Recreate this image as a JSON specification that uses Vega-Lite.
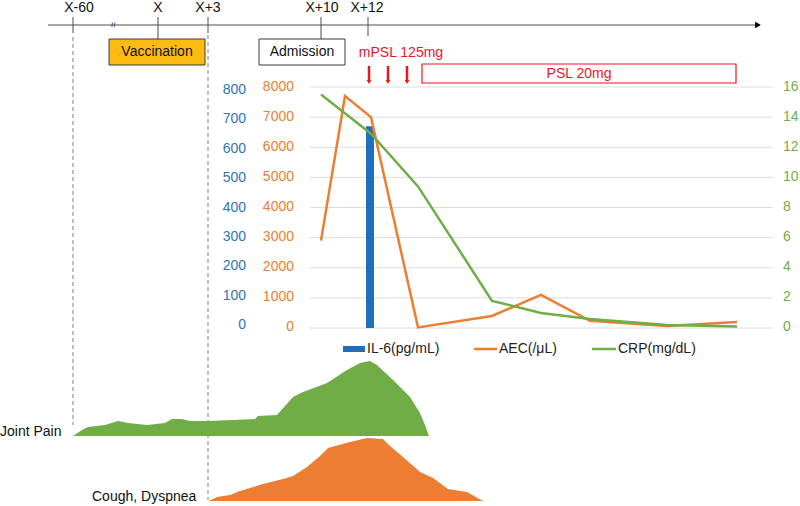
{
  "$schema": "https://vega.github.io/schema/vega-lite/v6.json",
  "width": 800,
  "height": 506,
  "autosize": "none",
  "padding": 0,
  "background": "white",
  "config": {
    "view": {"stroke": null},
    "font": "Liberation Sans",
    "text": {"font": "Liberation Sans", "fontSize": 14, "baseline": "middle"}
  },
  "resolve": {"scale": {"x": "independent", "y": "independent"}},
  "data": {"values": [{}]},
  "datasets": {
    "ticks": [
      {"label": "X-60", "pos": 73, "lpos": 79, "top": 17, "bottom": 33},
      {"label": "X", "pos": 158, "lpos": 158, "top": 17, "bottom": 39},
      {"label": "X+3", "pos": 208, "lpos": 208, "top": 17, "bottom": 33},
      {"label": "X+10", "pos": 321, "lpos": 322, "top": 17, "bottom": 39},
      {"label": "X+12", "pos": 368, "lpos": 367, "top": 17, "bottom": 36}
    ],
    "dashes": [
      {"pos": 73, "top": 37, "bottom": 425},
      {"pos": 208, "top": 35, "bottom": 500}
    ],
    "arrows": [{"pos": 369}, {"pos": 388}, {"pos": 407}],
    "aecTicks": [{"v": 0}, {"v": 1000}, {"v": 2000}, {"v": 3000}, {"v": 4000}, {"v": 5000}, {"v": 6000}, {"v": 7000}, {"v": 8000}],
    "il6Ticks": [{"v": 0}, {"v": 100}, {"v": 200}, {"v": 300}, {"v": 400}, {"v": 500}, {"v": 600}, {"v": 700}, {"v": 800}],
    "crpTicks": [{"v": 0}, {"v": 2}, {"v": 4}, {"v": 6}, {"v": 8}, {"v": 10}, {"v": 12}, {"v": 14}, {"v": 16}],
    "il6": [{"x1": 366, "x2": 374, "il6": 670}],
    "aec": [
      {"pos": 321, "aec": 2900},
      {"pos": 345, "aec": 7700},
      {"pos": 371, "aec": 7000},
      {"pos": 418, "aec": 20},
      {"pos": 492, "aec": 400},
      {"pos": 541, "aec": 1100},
      {"pos": 590, "aec": 240},
      {"pos": 667, "aec": 70},
      {"pos": 737, "aec": 200}
    ],
    "crp": [
      {"pos": 321, "crp": 15.5},
      {"pos": 371, "crp": 12.9},
      {"pos": 418, "crp": 9.4},
      {"pos": 492, "crp": 1.8},
      {"pos": 541, "crp": 1.0},
      {"pos": 590, "crp": 0.6},
      {"pos": 667, "crp": 0.2},
      {"pos": 737, "crp": 0.1}
    ],
    "joint": [
      {"pos": 73, "sev": 0}, {"pos": 82, "sev": 6}, {"pos": 88, "sev": 9}, {"pos": 105, "sev": 11},
      {"pos": 118, "sev": 15}, {"pos": 128, "sev": 13}, {"pos": 147, "sev": 11}, {"pos": 165, "sev": 13},
      {"pos": 172, "sev": 17}, {"pos": 182, "sev": 17}, {"pos": 190, "sev": 15}, {"pos": 207, "sev": 15},
      {"pos": 233, "sev": 16}, {"pos": 255, "sev": 17}, {"pos": 258, "sev": 20}, {"pos": 277, "sev": 21},
      {"pos": 293, "sev": 39}, {"pos": 303, "sev": 44}, {"pos": 327, "sev": 53}, {"pos": 347, "sev": 66},
      {"pos": 360, "sev": 73}, {"pos": 370, "sev": 75}, {"pos": 377, "sev": 71}, {"pos": 393, "sev": 56},
      {"pos": 410, "sev": 39}, {"pos": 420, "sev": 23}, {"pos": 425, "sev": 11}, {"pos": 429, "sev": 0}
    ],
    "cough": [
      {"pos": 209, "sev": 0}, {"pos": 217, "sev": 4}, {"pos": 230, "sev": 6}, {"pos": 240, "sev": 10},
      {"pos": 263, "sev": 17}, {"pos": 283, "sev": 22}, {"pos": 293, "sev": 25}, {"pos": 307, "sev": 34},
      {"pos": 320, "sev": 45}, {"pos": 328, "sev": 53}, {"pos": 350, "sev": 59}, {"pos": 367, "sev": 63},
      {"pos": 383, "sev": 62}, {"pos": 390, "sev": 55}, {"pos": 403, "sev": 44}, {"pos": 420, "sev": 29},
      {"pos": 433, "sev": 23}, {"pos": 448, "sev": 12}, {"pos": 467, "sev": 9}, {"pos": 483, "sev": 0}
    ]
  },
  "layer": [
    {
      "mark": {"type": "rule", "color": "#4d4d4d", "strokeWidth": 1},
      "encoding": {
        "x": {"datum": 48, "type": "quantitative", "scale": {"domain": [0, 800], "range": [0, 800]}, "axis": null},
        "x2": {"datum": 756},
        "y": {"datum": 25, "type": "quantitative", "scale": {"domain": [0, 506], "range": [0, 506]}, "axis": null}
      }
    },
    {
      "mark": {"type": "point", "shape": "triangle-right", "filled": true, "color": "#000000", "size": 45, "opacity": 1},
      "encoding": {
        "x": {"datum": 758, "type": "quantitative", "scale": {"domain": [0, 800], "range": [0, 800]}, "axis": null},
        "y": {"datum": 25, "type": "quantitative", "scale": {"domain": [0, 506], "range": [0, 506]}, "axis": null}
      }
    },
    {
      "mark": {"type": "text", "text": "≈", "angle": 90, "fontSize": 10, "color": "#333333"},
      "encoding": {
        "x": {"datum": 113, "type": "quantitative", "scale": {"domain": [0, 800], "range": [0, 800]}, "axis": null},
        "y": {"datum": 25, "type": "quantitative", "scale": {"domain": [0, 506], "range": [0, 506]}, "axis": null}
      }
    },
    {
      "data": {"name": "ticks"},
      "mark": {"type": "rule", "color": "#4d4d4d", "strokeWidth": 1},
      "encoding": {
        "x": {"field": "pos", "type": "quantitative", "scale": {"domain": [0, 800], "range": [0, 800]}, "axis": null},
        "y": {"field": "top", "type": "quantitative", "scale": {"domain": [0, 506], "range": [0, 506]}, "axis": null},
        "y2": {"field": "bottom"}
      }
    },
    {
      "data": {"name": "ticks"},
      "mark": {"type": "text", "fontSize": 14, "color": "#111111"},
      "encoding": {
        "x": {"field": "lpos", "type": "quantitative", "scale": {"domain": [0, 800], "range": [0, 800]}, "axis": null},
        "y": {"datum": 8, "type": "quantitative", "scale": {"domain": [0, 506], "range": [0, 506]}, "axis": null},
        "text": {"field": "label"}
      }
    },
    {
      "mark": {"type": "rect", "fill": "#FDBA12", "stroke": "#3a3a3a", "strokeWidth": 1},
      "encoding": {
        "x": {"datum": 109, "type": "quantitative", "scale": {"domain": [0, 800], "range": [0, 800]}, "axis": null},
        "x2": {"datum": 205},
        "y": {"datum": 39, "type": "quantitative", "scale": {"domain": [0, 506], "range": [0, 506]}, "axis": null},
        "y2": {"datum": 65}
      }
    },
    {
      "mark": {"type": "text", "text": "Vaccination", "fontSize": 14, "color": "#111111"},
      "encoding": {
        "x": {"datum": 157, "type": "quantitative", "scale": {"domain": [0, 800], "range": [0, 800]}, "axis": null},
        "y": {"datum": 52, "type": "quantitative", "scale": {"domain": [0, 506], "range": [0, 506]}, "axis": null}
      }
    },
    {
      "mark": {"type": "rect", "fill": "#ffffff", "stroke": "#3a3a3a", "strokeWidth": 1},
      "encoding": {
        "x": {"datum": 259, "type": "quantitative", "scale": {"domain": [0, 800], "range": [0, 800]}, "axis": null},
        "x2": {"datum": 345},
        "y": {"datum": 39, "type": "quantitative", "scale": {"domain": [0, 506], "range": [0, 506]}, "axis": null},
        "y2": {"datum": 65}
      }
    },
    {
      "mark": {"type": "text", "text": "Admission", "fontSize": 14, "color": "#111111"},
      "encoding": {
        "x": {"datum": 302, "type": "quantitative", "scale": {"domain": [0, 800], "range": [0, 800]}, "axis": null},
        "y": {"datum": 52, "type": "quantitative", "scale": {"domain": [0, 506], "range": [0, 506]}, "axis": null}
      }
    },
    {
      "data": {"name": "dashes"},
      "mark": {"type": "rule", "color": "#9e9e9e", "strokeWidth": 1.3, "strokeDash": [4, 3]},
      "encoding": {
        "x": {"field": "pos", "type": "quantitative", "scale": {"domain": [0, 800], "range": [0, 800]}, "axis": null},
        "y": {"field": "top", "type": "quantitative", "scale": {"domain": [0, 506], "range": [0, 506]}, "axis": null},
        "y2": {"field": "bottom"}
      }
    },
    {
      "mark": {"type": "text", "text": "mPSL 125mg", "fontSize": 14, "color": "#F0141E"},
      "encoding": {
        "x": {"datum": 401, "type": "quantitative", "scale": {"domain": [0, 800], "range": [0, 800]}, "axis": null},
        "y": {"datum": 53, "type": "quantitative", "scale": {"domain": [0, 506], "range": [0, 506]}, "axis": null}
      }
    },
    {
      "data": {"name": "arrows"},
      "mark": {"type": "rule", "color": "#F0141E", "strokeWidth": 2.5},
      "encoding": {
        "x": {"field": "pos", "type": "quantitative", "scale": {"domain": [0, 800], "range": [0, 800]}, "axis": null},
        "y": {"datum": 66, "type": "quantitative", "scale": {"domain": [0, 506], "range": [0, 506]}, "axis": null},
        "y2": {"datum": 81}
      }
    },
    {
      "data": {"name": "arrows"},
      "mark": {"type": "point", "shape": "triangle-down", "filled": true, "color": "#F0141E", "size": 22, "opacity": 1},
      "encoding": {
        "x": {"field": "pos", "type": "quantitative", "scale": {"domain": [0, 800], "range": [0, 800]}, "axis": null},
        "y": {"datum": 82, "type": "quantitative", "scale": {"domain": [0, 506], "range": [0, 506]}, "axis": null}
      }
    },
    {
      "mark": {"type": "rect", "fill": "#ffffff", "stroke": "#F0141E", "strokeWidth": 1.2},
      "encoding": {
        "x": {"datum": 422, "type": "quantitative", "scale": {"domain": [0, 800], "range": [0, 800]}, "axis": null},
        "x2": {"datum": 736},
        "y": {"datum": 64, "type": "quantitative", "scale": {"domain": [0, 506], "range": [0, 506]}, "axis": null},
        "y2": {"datum": 83}
      }
    },
    {
      "mark": {"type": "text", "text": "PSL 20mg", "fontSize": 14, "color": "#F0141E"},
      "encoding": {
        "x": {"datum": 579, "type": "quantitative", "scale": {"domain": [0, 800], "range": [0, 800]}, "axis": null},
        "y": {"datum": 74, "type": "quantitative", "scale": {"domain": [0, 506], "range": [0, 506]}, "axis": null}
      }
    },
    {
      "data": {"name": "aecTicks"},
      "mark": {"type": "rule", "color": "#dcdcdc", "strokeWidth": 1},
      "encoding": {
        "x": {"datum": 310, "type": "quantitative", "scale": {"domain": [0, 800], "range": [0, 800]}, "axis": null},
        "x2": {"datum": 773},
        "y": {"field": "v", "type": "quantitative", "scale": {"domain": [0, 8000], "range": [328, 87]}, "axis": null}
      }
    },
    {
      "data": {"name": "il6"},
      "mark": {"type": "rect", "color": "#1F6EC0"},
      "encoding": {
        "x": {"field": "x1", "type": "quantitative", "scale": {"domain": [0, 800], "range": [0, 800]}, "axis": null},
        "x2": {"field": "x2"},
        "y": {"field": "il6", "type": "quantitative", "scale": {"domain": [0, 800], "range": [328, 87]}, "axis": null},
        "y2": {"datum": 0}
      }
    },
    {
      "data": {"name": "aec"},
      "mark": {"type": "line", "color": "#ED7D31", "strokeWidth": 2.5},
      "encoding": {
        "x": {"field": "pos", "type": "quantitative", "scale": {"domain": [0, 800], "range": [0, 800]}, "axis": null},
        "y": {"field": "aec", "type": "quantitative", "scale": {"domain": [0, 8000], "range": [328, 87]}, "axis": null}
      }
    },
    {
      "data": {"name": "crp"},
      "mark": {"type": "line", "color": "#70AD47", "strokeWidth": 2.5},
      "encoding": {
        "x": {"field": "pos", "type": "quantitative", "scale": {"domain": [0, 800], "range": [0, 800]}, "axis": null},
        "y": {"field": "crp", "type": "quantitative", "scale": {"domain": [0, 16], "range": [328, 87]}, "axis": null}
      }
    },
    {
      "data": {"name": "il6Ticks"},
      "mark": {"type": "text", "align": "right", "fontSize": 14, "color": "#2E75B6"},
      "encoding": {
        "x": {"datum": 246, "type": "quantitative", "scale": {"domain": [0, 800], "range": [0, 800]}, "axis": null},
        "y": {"field": "v", "type": "quantitative", "scale": {"domain": [0, 800], "range": [325, 90]}, "axis": null},
        "text": {"field": "v"}
      }
    },
    {
      "data": {"name": "aecTicks"},
      "mark": {"type": "text", "align": "right", "fontSize": 14, "color": "#ED7D31"},
      "encoding": {
        "x": {"datum": 294, "type": "quantitative", "scale": {"domain": [0, 800], "range": [0, 800]}, "axis": null},
        "y": {"field": "v", "type": "quantitative", "scale": {"domain": [0, 8000], "range": [327, 87]}, "axis": null},
        "text": {"field": "v"}
      }
    },
    {
      "data": {"name": "crpTicks"},
      "mark": {"type": "text", "align": "left", "fontSize": 14, "color": "#70AD47"},
      "encoding": {
        "x": {"datum": 783, "type": "quantitative", "scale": {"domain": [0, 800], "range": [0, 800]}, "axis": null},
        "y": {"field": "v", "type": "quantitative", "scale": {"domain": [0, 16], "range": [327, 87]}, "axis": null},
        "text": {"field": "v"}
      }
    },
    {
      "mark": {"type": "rect", "color": "#1F6EC0"},
      "encoding": {
        "x": {"datum": 343, "type": "quantitative", "scale": {"domain": [0, 800], "range": [0, 800]}, "axis": null},
        "x2": {"datum": 365},
        "y": {"datum": 346, "type": "quantitative", "scale": {"domain": [0, 506], "range": [0, 506]}, "axis": null},
        "y2": {"datum": 352}
      }
    },
    {
      "mark": {"type": "text", "text": "IL-6(pg/mL)", "align": "left", "fontSize": 14, "color": "#222222"},
      "encoding": {
        "x": {"datum": 367, "type": "quantitative", "scale": {"domain": [0, 800], "range": [0, 800]}, "axis": null},
        "y": {"datum": 349, "type": "quantitative", "scale": {"domain": [0, 506], "range": [0, 506]}, "axis": null}
      }
    },
    {
      "mark": {"type": "rule", "color": "#ED7D31", "strokeWidth": 2.5},
      "encoding": {
        "x": {"datum": 474, "type": "quantitative", "scale": {"domain": [0, 800], "range": [0, 800]}, "axis": null},
        "x2": {"datum": 497},
        "y": {"datum": 349, "type": "quantitative", "scale": {"domain": [0, 506], "range": [0, 506]}, "axis": null}
      }
    },
    {
      "mark": {"type": "text", "text": "AEC(/μL)", "align": "left", "fontSize": 14, "color": "#222222"},
      "encoding": {
        "x": {"datum": 499, "type": "quantitative", "scale": {"domain": [0, 800], "range": [0, 800]}, "axis": null},
        "y": {"datum": 349, "type": "quantitative", "scale": {"domain": [0, 506], "range": [0, 506]}, "axis": null}
      }
    },
    {
      "mark": {"type": "rule", "color": "#70AD47", "strokeWidth": 2.5},
      "encoding": {
        "x": {"datum": 592, "type": "quantitative", "scale": {"domain": [0, 800], "range": [0, 800]}, "axis": null},
        "x2": {"datum": 616},
        "y": {"datum": 349, "type": "quantitative", "scale": {"domain": [0, 506], "range": [0, 506]}, "axis": null}
      }
    },
    {
      "mark": {"type": "text", "text": "CRP(mg/dL)", "align": "left", "fontSize": 14, "color": "#222222"},
      "encoding": {
        "x": {"datum": 618, "type": "quantitative", "scale": {"domain": [0, 800], "range": [0, 800]}, "axis": null},
        "y": {"datum": 349, "type": "quantitative", "scale": {"domain": [0, 506], "range": [0, 506]}, "axis": null}
      }
    },
    {
      "data": {"name": "joint"},
      "mark": {"type": "area", "color": "#70AD47", "opacity": 1},
      "encoding": {
        "x": {"field": "pos", "type": "quantitative", "scale": {"domain": [0, 800], "range": [0, 800]}, "axis": null},
        "y": {"field": "sev", "type": "quantitative", "scale": {"domain": [0, 100], "range": [436, 336]}, "axis": null},
        "y2": {"datum": 0}
      }
    },
    {
      "data": {"name": "cough"},
      "mark": {"type": "area", "color": "#ED7D31", "opacity": 1},
      "encoding": {
        "x": {"field": "pos", "type": "quantitative", "scale": {"domain": [0, 800], "range": [0, 800]}, "axis": null},
        "y": {"field": "sev", "type": "quantitative", "scale": {"domain": [0, 100], "range": [501, 401]}, "axis": null},
        "y2": {"datum": 0}
      }
    },
    {
      "mark": {"type": "text", "text": "Joint Pain", "align": "left", "fontSize": 14, "color": "#111111"},
      "encoding": {
        "x": {"datum": 0, "type": "quantitative", "scale": {"domain": [0, 800], "range": [0, 800]}, "axis": null},
        "y": {"datum": 432, "type": "quantitative", "scale": {"domain": [0, 506], "range": [0, 506]}, "axis": null}
      }
    },
    {
      "mark": {"type": "text", "text": "Cough, Dyspnea", "align": "left", "fontSize": 14, "color": "#111111"},
      "encoding": {
        "x": {"datum": 92, "type": "quantitative", "scale": {"domain": [0, 800], "range": [0, 800]}, "axis": null},
        "y": {"datum": 497, "type": "quantitative", "scale": {"domain": [0, 506], "range": [0, 506]}, "axis": null}
      }
    }
  ]
}
